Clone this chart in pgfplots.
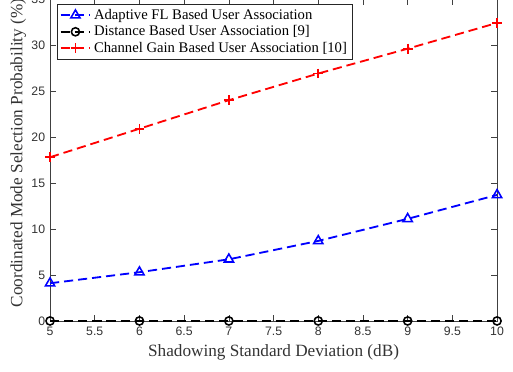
\documentclass[border=0pt]{standalone}
\usepackage{pgfplots}
\pgfplotsset{compat=1.18}
\usepackage{fontspec}
\setmainfont{Liberation Serif}
\newfontfamily\tickfont{Liberation Sans}
\begin{document}
\begin{tikzpicture}
\useasboundingbox (-35.5pt,-35.5pt) rectangle (328.3pt,227.6pt);
\begin{axis}[
  scale only axis,
  width=317pt, height=228.3pt,
  xmin=5, xmax=10, ymin=0, ymax=35,
  xtick={5,5.5,...,10}, ytick={0,5,...,35},
  tick align=inside,
  tick pos=both,
  major tick length=4pt,
  axis line style={draw=black!75, line width=0.5pt},
  every tick/.style={black!75, line width=0.5pt},
  /pgf/number format/assume math mode=true,
  ticklabel style={font=\tickfont\fontsize{8.7}{10}\selectfont, text=black!80},
  xticklabel style={yshift=-1pt},
  label style={font=\fontsize{12.2}{14}\selectfont, text=black!80},
  xlabel={Shadowing Standard Deviation (dB)},
  ylabel={Coordinated Mode Selection Probability (\%)},
  xlabel style={yshift=1pt},
  ylabel style={yshift=-3pt, xshift=5pt},
  legend style={at={(0.016,0.985)}, anchor=north west, draw=black!85, line width=0.5pt,
    font=\fontsize{10.4}{12}\selectfont, inner sep=1.5pt, row sep=-1pt,
    cells={anchor=west}},
  legend image code/.code={\draw[mark repeat=2,mark phase=2,#1] plot coordinates {(0cm,0cm) (0.37cm,0cm) (0.74cm,0cm)};},
  legend cell align=left,
  clip=false,
]
\addplot[blue, line width=1.3pt, dash pattern=on 6.5pt off 3.5pt, mark=triangle, mark size=3.8pt, mark options={solid, line width=1.1pt}]
coordinates {(5,4.1) (6,5.3) (7,6.7) (8,8.7) (9,11.1) (10,13.7)};
\addlegendentry{Adaptive FL Based User Association}
\addplot[black, line width=1.3pt, dash pattern=on 6.5pt off 3.5pt, mark=o, mark size=2.9pt, mark options={solid, line width=1.1pt}]
coordinates {(5,0) (6,0) (7,0) (8,0) (9,0) (10,0)};
\addlegendentry{Distance Based User Association [9]}
\addplot[red, line width=1.3pt, dash pattern=on 6.5pt off 3.5pt, mark=+, mark size=3.5pt, mark options={solid, line width=1.2pt}]
coordinates {(5,17.8) (6,20.9) (7,24.0) (8,26.9) (9,29.6) (10,32.4)};
\addlegendentry{Channel Gain Based User Association [10]}
\end{axis}
\end{tikzpicture}
\end{document}
